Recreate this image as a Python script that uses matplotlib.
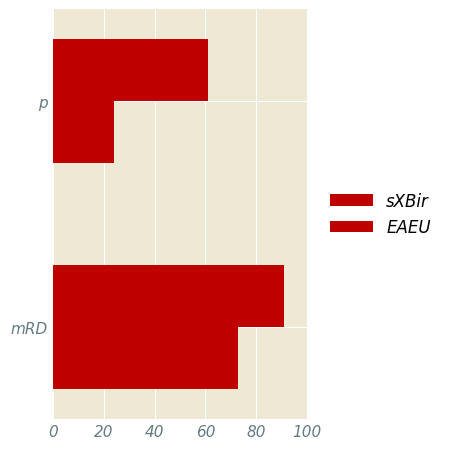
import matplotlib
matplotlib.use("Agg")
import numpy as np
import matplotlib.pyplot as plt

categories = ["mRD", "p"]
series_names = ["sXBir", "EAEU"]
sxbir = [91, 61]
eaeu = [73, 24]

fig = plt.figure(figsize=(4.56, 4.56), dpi=100)
ax = fig.add_axes([53/456, 36/456, 254/456, 410/456])
ax.set_facecolor("#EEE8D5")
y = np.arange(len(categories))
h = 0.275
ax.barh(y + h/2, sxbir, height=h, color="#BE0000", label=series_names[0], zorder=2)
ax.barh(y - h/2, eaeu, height=h, color="#BE0000", label=series_names[1], zorder=2)
ax.set_xlim(0, 100)
ax.set_ylim(-0.41, 1.41)
ax.set_yticks(y)
ax.set_yticklabels(categories)
ax.set_xticks([0, 20, 40, 60, 80, 100])
ax.grid(True, color="white", linewidth=0.8, zorder=1)
ax.set_axisbelow(True)
for s in ax.spines.values():
    s.set_visible(False)
ax.tick_params(length=0, labelsize=11, labelcolor="#657B83")
for t in ax.get_xticklabels() + ax.get_yticklabels():
    t.set_style("italic")
leg = ax.legend(loc="center left", bbox_to_anchor=(1.03, 0.5), frameon=False,
                prop={"style": "italic", "size": 12}, handlelength=2.6)
fig.savefig("out.png", dpi=100)
